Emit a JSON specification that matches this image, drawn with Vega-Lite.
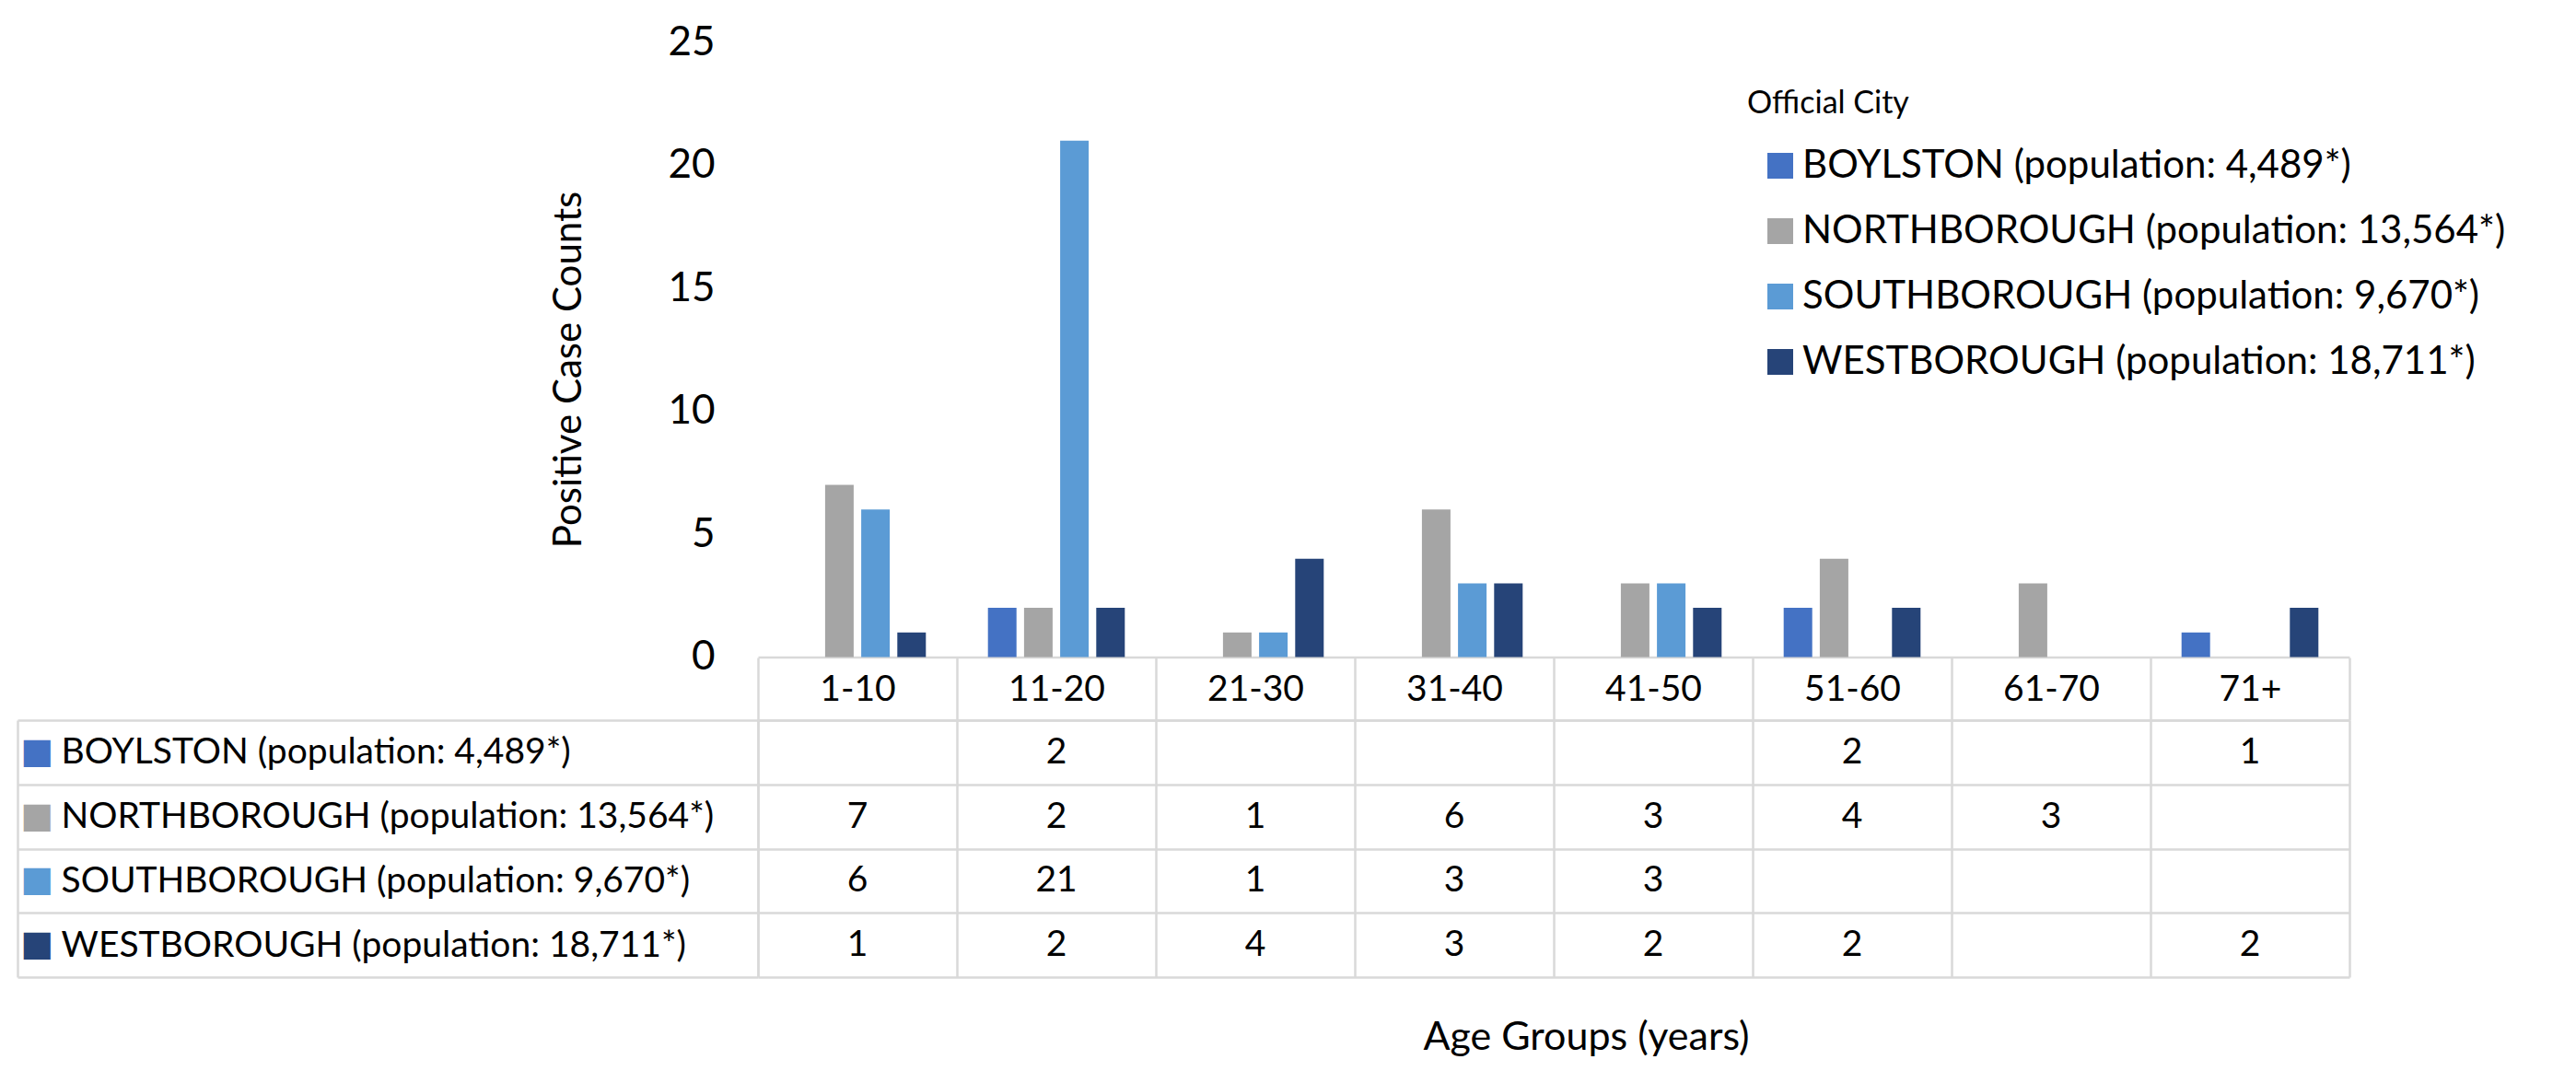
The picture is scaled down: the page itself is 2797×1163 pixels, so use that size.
{
  "$schema": "https://vega.github.io/schema/vega-lite/v6.json",
  "padding": {"left": 17, "top": 24, "right": 5, "bottom": 0},
  "config": {
    "font": "Lato",
    "view": {"stroke": null},
    "axis": {"labelColor": "#000000", "titleColor": "#000000", "labelFont": "Lato", "titleFont": "Lato"},
    "text": {"font": "Lato"}
  },
  "datasets": {
    "cases": [
      {"age": "1-10", "city": "NORTHBOROUGH (population: 13,564*)", "count": 7},
      {"age": "1-10", "city": "SOUTHBOROUGH (population: 9,670*)", "count": 6},
      {"age": "1-10", "city": "WESTBOROUGH (population: 18,711*)", "count": 1},
      {"age": "11-20", "city": "BOYLSTON (population: 4,489*)", "count": 2},
      {"age": "11-20", "city": "NORTHBOROUGH (population: 13,564*)", "count": 2},
      {"age": "11-20", "city": "SOUTHBOROUGH (population: 9,670*)", "count": 21},
      {"age": "11-20", "city": "WESTBOROUGH (population: 18,711*)", "count": 2},
      {"age": "21-30", "city": "NORTHBOROUGH (population: 13,564*)", "count": 1},
      {"age": "21-30", "city": "SOUTHBOROUGH (population: 9,670*)", "count": 1},
      {"age": "21-30", "city": "WESTBOROUGH (population: 18,711*)", "count": 4},
      {"age": "31-40", "city": "NORTHBOROUGH (population: 13,564*)", "count": 6},
      {"age": "31-40", "city": "SOUTHBOROUGH (population: 9,670*)", "count": 3},
      {"age": "31-40", "city": "WESTBOROUGH (population: 18,711*)", "count": 3},
      {"age": "41-50", "city": "NORTHBOROUGH (population: 13,564*)", "count": 3},
      {"age": "41-50", "city": "SOUTHBOROUGH (population: 9,670*)", "count": 3},
      {"age": "41-50", "city": "WESTBOROUGH (population: 18,711*)", "count": 2},
      {"age": "51-60", "city": "BOYLSTON (population: 4,489*)", "count": 2},
      {"age": "51-60", "city": "NORTHBOROUGH (population: 13,564*)", "count": 4},
      {"age": "51-60", "city": "WESTBOROUGH (population: 18,711*)", "count": 2},
      {"age": "61-70", "city": "NORTHBOROUGH (population: 13,564*)", "count": 3},
      {"age": "71+", "city": "BOYLSTON (population: 4,489*)", "count": 1},
      {"age": "71+", "city": "WESTBOROUGH (population: 18,711*)", "count": 2}
    ]
  },
  "spacing": 68,
  "bounds": "flush",
  "vconcat": [
    {
      "width": 1728,
      "height": 667.5,
      "data": {"name": "cases"},
      "mark": {"type": "bar"},
      "encoding": {
        "x": {
          "field": "age", "type": "nominal",
          "scale": {"domain": ["1-10", "11-20", "21-30", "31-40", "41-50", "51-60", "61-70", "71+"], "paddingInner": 0.312, "paddingOuter": 0.156},
          "axis": {"title": null, "labels": false, "ticks": false, "grid": false, "domain": true, "domainColor": "#d9d9d9", "domainWidth": 2.5}
        },
        "xOffset": {
          "field": "city", "type": "nominal",
          "scale": {"domain": ["BOYLSTON (population: 4,489*)", "NORTHBOROUGH (population: 13,564*)", "SOUTHBOROUGH (population: 9,670*)", "WESTBOROUGH (population: 18,711*)"], "paddingInner": 0.209, "paddingOuter": 0}
        },
        "y": {
          "field": "count", "type": "quantitative",
          "scale": {"domain": [0, 25], "nice": false},
          "axis": {"title": "Positive Case Counts", "values": [0, 5, 10, 15, 20, 25], "domain": false, "ticks": false, "grid": false, "labelFontSize": 44, "labelPadding": 47, "titleFontSize": 42, "titleFontWeight": "normal", "titlePadding": 85, "titleY": 355}
        },
        "color": {
          "field": "city", "type": "nominal",
          "scale": {"domain": ["BOYLSTON (population: 4,489*)", "NORTHBOROUGH (population: 13,564*)", "SOUTHBOROUGH (population: 9,670*)", "WESTBOROUGH (population: 18,711*)"], "range": ["#4472C4", "#A5A5A5", "#5B9BD5", "#264478"]},
          "legend": {
            "title": "Official City", "orient": "none", "legendX": 1074, "legendY": 50, "padding": 0,
            "titleFontSize": 34, "titleFontWeight": "normal", "titleColor": "#000000", "titlePadding": 29,
            "labelFontSize": 42, "labelColor": "#000000", "labelOffset": 3, "labelLimit": 1200,
            "symbolType": "square", "symbolSize": 784, "symbolStrokeWidth": 0, "symbolOpacity": 1, "symbolOffset": 15,
            "rowPadding": 29
          }
        }
      }
    },
    {
      "width": 1728,
      "height": 279,
      "data": {"name": "cases"},
      "layer": [
        {
          "mark": {"type": "text", "fontSize": 39, "color": "#000000"},
          "encoding": {
            "x": {
              "field": "age", "type": "nominal",
              "scale": {"domain": ["1-10", "11-20", "21-30", "31-40", "41-50", "51-60", "61-70", "71+"], "paddingInner": 0, "paddingOuter": 0},
              "axis": {"orient": "top", "title": null, "tickBand": "extent", "tickSize": 68, "tickColor": "#d9d9d9", "tickWidth": 2.5, "domain": true, "domainColor": "#d9d9d9", "domainWidth": 2.5, "grid": true, "gridColor": "#d9d9d9", "gridWidth": 2.5, "labelAngle": 0, "labelPadding": -34, "labelBaseline": "middle", "labelFontSize": 39}
            },
            "y": {
              "field": "city", "type": "nominal",
              "scale": {"domain": ["BOYLSTON (population: 4,489*)", "NORTHBOROUGH (population: 13,564*)", "SOUTHBOROUGH (population: 9,670*)", "WESTBOROUGH (population: 18,711*)"], "paddingInner": 0, "paddingOuter": 0},
              "axis": {"orient": "left", "title": null, "tickBand": "extent", "tickSize": 804, "tickColor": "#d9d9d9", "tickWidth": 2.5, "domain": true, "domainColor": "#d9d9d9", "domainWidth": 2.5, "grid": true, "gridColor": "#d9d9d9", "gridWidth": 2.5, "labelAlign": "left", "labelPadding": -47, "labelFontSize": 39, "labelLimit": 1200}
            },
            "text": {"field": "count", "type": "quantitative"}
          }
        },
        {
          "mark": {"type": "text", "text": ""},
          "encoding": {
            "x": {
              "field": "age", "type": "nominal",
              "axis": {"orient": "bottom", "title": "Age Groups (years)", "labels": false, "ticks": false, "domain": false, "grid": false, "titleFontSize": 43, "titleFontWeight": "normal", "titlePadding": 44, "titleX": 899}
            },
            "y": {
              "field": "city", "type": "nominal",
              "axis": {"orient": "left", "offset": 804, "title": null, "domain": true, "domainColor": "#d9d9d9", "domainWidth": 2.5, "ticks": false, "grid": false, "labelExpr": "'■'", "labelAlign": "left", "labelPadding": -3, "labelFont": "DejaVu Sans", "labelFontSize": 38, "labelLimit": 200,
                "labelColor": {"expr": "datum.value == 'BOYLSTON (population: 4,489*)' ? '#4472C4' : datum.value == 'NORTHBOROUGH (population: 13,564*)' ? '#A5A5A5' : datum.value == 'SOUTHBOROUGH (population: 9,670*)' ? '#5B9BD5' : '#264478'"}}
            }
          }
        }
      ],
      "resolve": {"axis": {"x": "independent", "y": "independent"}}
    }
  ]
}
